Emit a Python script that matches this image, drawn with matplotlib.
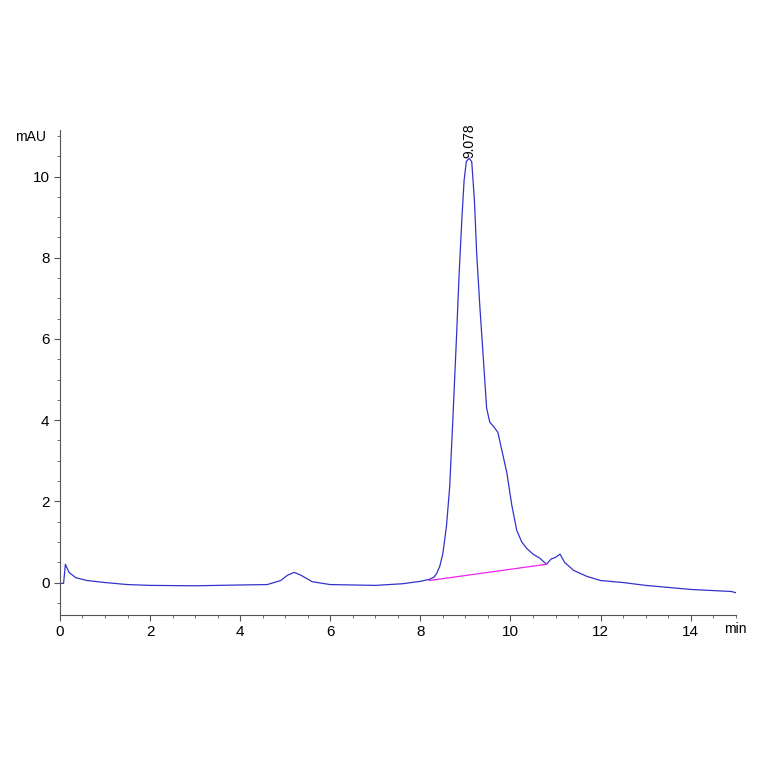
import matplotlib
matplotlib.use("Agg")
import matplotlib.pyplot as plt
from matplotlib.ticker import MultipleLocator

plt.rcParams['font.family'] = ['Liberation Sans Narrow', 'Liberation Sans', 'DejaVu Sans']

time_min = [0, 0.08, 0.12, 0.2, 0.35, 0.6, 1, 1.5, 2, 3, 4, 4.6, 4.9, 5.05, 5.2, 5.35, 5.6, 6, 7, 7.6, 8, 8.2,
            8.3, 8.36, 8.43, 8.5, 8.58, 8.65, 8.72, 8.8, 8.86, 8.92, 8.97, 9.02, 9.08, 9.14, 9.2, 9.25, 9.32,
            9.39, 9.47, 9.54, 9.62, 9.72, 9.82, 9.92, 10.03, 10.14, 10.25, 10.36, 10.5, 10.65, 10.8, 10.9,
            11.0, 11.1, 11.2, 11.4, 11.7, 12, 12.5, 13, 14, 14.9, 15]
signal_mau = [-0.02, -0.02, 0.45, 0.25, 0.12, 0.05, 0.0, -0.05, -0.07, -0.08, -0.06, -0.05, 0.05, 0.18, 0.25,
              0.18, 0.02, -0.05, -0.07, -0.03, 0.03, 0.08, 0.13, 0.22, 0.4, 0.72, 1.4, 2.35, 4.0, 6.0, 7.6,
              8.94, 9.9, 10.37, 10.45, 10.37, 9.4, 8.1, 6.8, 5.65, 4.3, 3.95, 3.85, 3.7, 3.2, 2.7, 1.9, 1.28,
              1.0, 0.84, 0.7, 0.6, 0.45, 0.58, 0.62, 0.7, 0.5, 0.3, 0.15, 0.05, 0.0, -0.07, -0.17, -0.22, -0.25]
baseline_t = [8.2, 10.8]
baseline_y = [0.05, 0.45]
peak_label = "9.078"
peak_t = 9.078
peak_y = 10.45

fig = plt.figure(figsize=(7.64, 7.64), dpi=100)
ax = fig.add_axes([0.0785, 0.195, 0.8845, 0.635])
ax.plot(time_min, signal_mau, color='#3333cc', lw=0.9)
ax.plot(baseline_t, baseline_y, color='#ee22ee', lw=0.9)
ax.text(peak_t, peak_y, peak_label, rotation=90, ha='center', va='bottom', fontsize=10)
ax.set_xlim(0, 15)
ax.set_ylim(-0.8, 11.15)
ax.xaxis.set_major_locator(MultipleLocator(2))
ax.xaxis.set_minor_locator(MultipleLocator(0.5))
ax.yaxis.set_major_locator(MultipleLocator(2))
ax.yaxis.set_minor_locator(MultipleLocator(0.5))
for s in ['top', 'right']:
    ax.spines[s].set_visible(False)
for s in ['left', 'bottom']:
    ax.spines[s].set_color('#555555')
ax.tick_params(which='major', length=4, color='#555555', labelsize=11)
ax.tick_params(which='minor', length=2, color='#555555')
ax.set_xticks([0, 2, 4, 6, 8, 10, 12, 14])
ax.text(-0.02, 1.0, 'mAU', transform=ax.transAxes, ha='right', va='top', fontsize=10)
ax.text(1.0, -0.015, 'min', transform=ax.transAxes, ha='center', va='top', fontsize=10)
fig.savefig('out.png', dpi=100)
